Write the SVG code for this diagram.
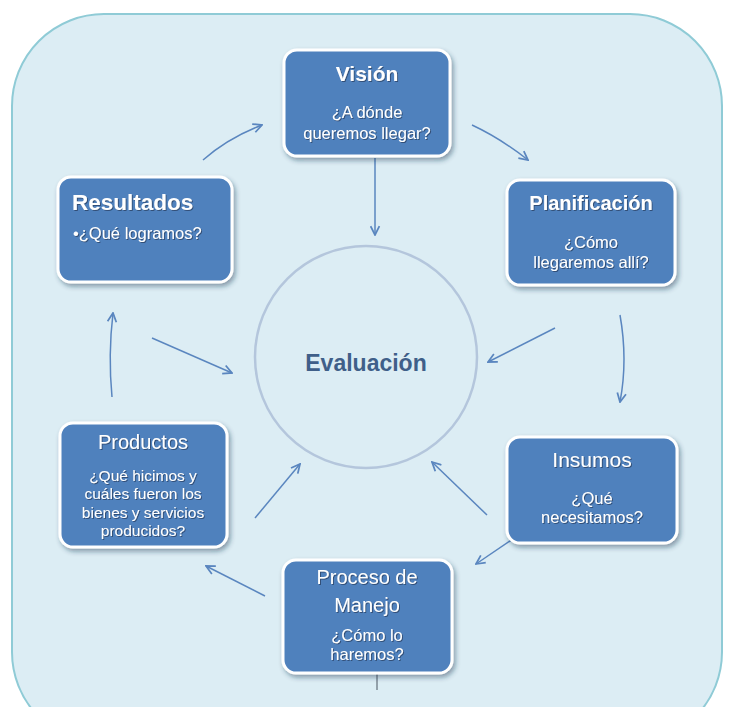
<svg xmlns="http://www.w3.org/2000/svg" width="729" height="707" viewBox="0 0 729 707">
<defs>
<filter id="sh" x="-20%" y="-20%" width="140%" height="150%">
<feDropShadow dx="2" dy="3" stdDeviation="2.5" flood-color="#1e3550" flood-opacity="0.45"/>
</filter>
<filter id="ts" x="-10%" y="-10%" width="120%" height="130%">
<feDropShadow dx="1" dy="1" stdDeviation="0.6" flood-color="#1b2f4a" flood-opacity="0.6"/>
</filter>
<marker id="ah" viewBox="0 0 10 10" refX="9" refY="5" markerWidth="11" markerHeight="11" markerUnits="userSpaceOnUse" orient="auto">
<path d="M1,1 L9,5 L1,9" fill="none" stroke="#5a86bf" stroke-width="1.6"/>
</marker>
<style>
.box{fill:#4f81bd;stroke:#ffffff;stroke-width:3;filter:url(#sh)}
.t{font-family:"Liberation Sans",Arial,sans-serif;fill:#ffffff;text-anchor:middle}
.tb{font-weight:bold}
.s{font-size:16.5px}
.c{fill:none;stroke:#5a86bf;stroke-width:1.5;marker-end:url(#ah)}
</style>
</defs>
<rect x="0" y="0" width="729" height="707" fill="#ffffff"/>
<rect x="12" y="14" width="710" height="730" rx="92" ry="92" fill="#dcedf4" stroke="#8fcbd6" stroke-width="2"/>

<g id="evaluacion">
<circle cx="366" cy="357" r="111" fill="none" stroke="#b4c6dc" stroke-width="2.5"/>
<text x="366" y="371" font-family="'Liberation Sans',Arial,sans-serif" font-size="23" font-weight="bold" fill="#3f5f89" text-anchor="middle">Evaluación</text>
</g>

<g id="connectors">
<path class="c" d="M203,160 Q228,138 262,125"/>
<path class="c" d="M472,125 Q500,138 528,160"/>
<path class="c" d="M375,158 L375,235"/>
<path class="c" d="M620,315 Q628,360 620,402"/>
<path class="c" d="M555,328 L488,362"/>
<path class="c" d="M112,397 Q108,355 113,313"/>
<path class="c" d="M152,338 L232,373"/>
<path class="c" d="M529,528 L476,564"/>
<path class="c" d="M487,515 L432,462"/>
<path class="c" d="M265,596 L206,566"/>
<path class="c" d="M255,518 L300,464"/>
<path d="M377,673 L377,690" stroke="#4a5560" stroke-width="1"/>
</g>

<g id="vision">
<rect class="box" x="284" y="50" width="166" height="106" rx="13"/>
<g filter="url(#ts)">
<text x="367" y="81" class="t tb" font-size="21">Visión</text>
<text x="367" y="118" class="t s">¿A dónde</text>
<text x="367" y="139" class="t s">queremos llegar?</text>
</g>
</g>

<g id="planificacion">
<rect class="box" x="507" y="180" width="168" height="105" rx="13"/>
<g filter="url(#ts)">
<text x="591" y="210" class="t tb" font-size="20">Planificación</text>
<text x="591" y="248" class="t s">¿Cómo</text>
<text x="591" y="268" class="t s">llegaremos allí?</text>
</g>
</g>

<g id="resultados">
<rect class="box" x="58" y="177" width="174" height="105" rx="13"/>
<g filter="url(#ts)">
<text x="72" y="210" class="t tb" font-size="22.5" style="text-anchor:start">Resultados</text>
<text x="73" y="239" class="t s" style="text-anchor:start">•¿Qué logramos?</text>
</g>
</g>

<g id="insumos">
<rect class="box" x="507" y="437" width="170" height="106" rx="13"/>
<g filter="url(#ts)">
<text x="592" y="467" class="t" font-size="21">Insumos</text>
<text x="592" y="504" class="t s">¿Qué</text>
<text x="592" y="523" class="t s">necesitamos?</text>
</g>
</g>

<g id="proceso">
<rect class="box" x="283" y="560" width="169" height="113" rx="13"/>
<g filter="url(#ts)">
<text x="367" y="584" class="t" font-size="20">Proceso de</text>
<text x="367" y="612" class="t" font-size="20">Manejo</text>
<text x="367" y="641" class="t s">¿Cómo lo</text>
<text x="367" y="660" class="t s">haremos?</text>
</g>
</g>

<g id="productos">
<rect class="box" x="60" y="423" width="167" height="124" rx="13"/>
<g filter="url(#ts)">
<text x="143" y="449" class="t" font-size="20">Productos</text>
<text x="143" y="481" class="t" font-size="15.5">¿Qué hicimos y</text>
<text x="143" y="499" class="t" font-size="15.5">cuáles fueron los</text>
<text x="143" y="518" class="t" font-size="15.5">bienes y servicios</text>
<text x="143" y="536" class="t" font-size="15.5">producidos?</text>
</g>
</g>
</svg>
